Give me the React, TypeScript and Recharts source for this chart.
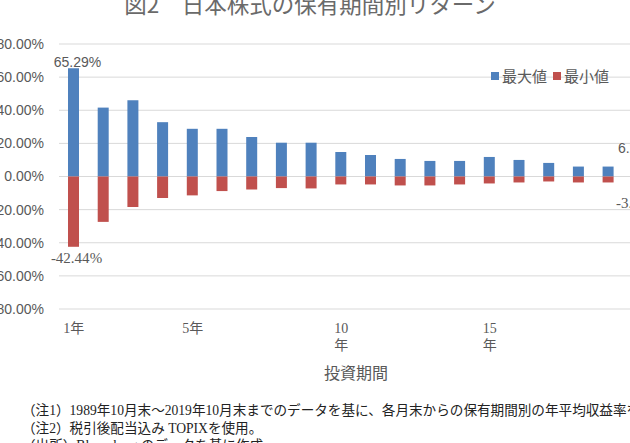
import React from "react";
import { BarChart, Bar, XAxis, YAxis, CartesianGrid, LabelList } from "recharts";

// 保有期間（年）
const years = [1, 2, 3, 4, 5, 6, 7, 8, 9, 10, 11, 12, 13, 14, 15, 16, 17, 18, 19, 20];
// 最大値 (%)
const maxValues = [65.29, 41.6, 46.0, 32.8, 28.8, 28.8, 23.8, 20.4, 20.4, 14.8, 13.0, 10.6, 9.4, 9.4, 11.8, 10.0, 8.2, 6.0, 6.0, 6.2];
// 最小値 (%)
const minValues = [-42.44, -27.4, -18.4, -13.0, -11.4, -8.8, -7.8, -7.0, -7.2, -4.8, -4.8, -5.4, -5.4, -4.8, -4.2, -3.6, -3.0, -3.6, -3.6, -3.5];
const yTicks = [-80, -60, -40, -20, 0, 20, 40, 60, 80];
const xTickLabels: Record<number, string[]> = {
  1: ["1年"],
  5: ["5年"],
  10: ["10", "年"],
  15: ["15", "年"],
  20: ["20", "年"],
};
const labeledIndexes = [0, 19];
const notes = [
  "（注1）1989年10月末～2019年10月末までのデータを基に、各月末からの保有期間別の年平均収益率を算出。",
  "（注2）税引後配当込み TOPIXを使用。",
  "（出所）Bloomberg のデータを基に作成",
];

const data = years.map((y, i) => ({ year: y, max: maxValues[i], min: minValues[i] }));

const BLUE = "#4F81BD";
const RED = "#C0504D";
const GRAY = "#595959";
const SANS = "'Liberation Sans', 'Noto Sans CJK JP', sans-serif";
const SERIF = "'Liberation Serif', 'Noto Sans CJK JP', serif";
const CJK = "'Noto Sans CJK JP', sans-serif";

const XTick = (props: any) => {
  const { x, y, payload } = props;
  const lines = xTickLabels[payload.value];
  if (!lines) return null;
  return (
    <text x={x} y={y} textAnchor="middle" fill={GRAY} fontSize={14} fontFamily={SERIF}>
      {lines.map((l, i) => (
        <tspan key={i} x={x} dy={i === 0 ? 24 : 17}>
          {l}
        </tspan>
      ))}
    </text>
  );
};

const MaxLabel = (props: any) => {
  const { x, y, width, height, index, value } = props;
  if (!labeledIndexes.includes(index)) return null;
  const top = Math.min(y, y + height);
  const lift = index === 0 ? 6 : 18;
  const shift = index === 0 ? 4 : 0;
  return (
    <text x={x + width / 2 + shift} y={top - lift} dy={5} textAnchor="middle" fill={GRAY} fontSize={14} fontFamily={SANS}>
      {value.toFixed(2)}%
    </text>
  );
};

const MinLabel = (props: any) => {
  const { x, y, width, height, index, value } = props;
  if (!labeledIndexes.includes(index)) return null;
  const bottom = Math.max(y, y + height);
  const drop = index === 0 ? 11 : 21;
  const shift = index === 0 ? 3 : 0;
  return (
    <text x={x + width / 2 + shift} y={bottom + drop} dy={5} textAnchor="middle" fill={GRAY} fontSize={15} fontFamily={SERIF}>
      {value.toFixed(2)}%
    </text>
  );
};

export default function App() {
  return (
    <div
      style={{
        position: "fixed",
        left: 0,
        top: 0,
        width: 630,
        height: 443,
        overflow: "hidden",
        background: "#fff",
      }}
    >
      <BarChart
        width={700}
        height={443}
        data={data}
        stackOffset="sign"
        margin={{ top: 44, right: 47, bottom: 64, left: 0 }}
        style={{ position: "absolute", left: 0, top: 0 }}
      >
        <CartesianGrid vertical={false} stroke="#d9d9d9" />
        <XAxis
          dataKey="year"
          interval={0}
          axisLine={false}
          tickLine={false}
          tickSize={0}
          tickMargin={0}
          height={70}
          tick={<XTick />}
          label={{
            value: "投資期間",
            position: "insideBottom",
            offset: 0,
            fill: GRAY,
            fontSize: 16,
            fontFamily: CJK,
          }}
        />
        <YAxis
          domain={[-80, 80]}
          ticks={yTicks}
          width={59}
          axisLine={false}
          tickLine={false}
          tickSize={0}
          tickMargin={15}
          tickFormatter={(v: number) => `${v.toFixed(2)}%`}
          tick={{ fill: GRAY, fontSize: 14, fontFamily: SANS }}
        />
        <Bar dataKey="max" stackId="a" fill={BLUE} barSize={11} isAnimationActive={false}>
          <LabelList dataKey="max" content={<MaxLabel />} />
        </Bar>
        <Bar dataKey="min" stackId="a" fill={RED} barSize={11} isAnimationActive={false}>
          <LabelList dataKey="min" content={<MinLabel />} />
        </Bar>
      </BarChart>

      <div
        style={{
          position: "absolute",
          left: 0,
          width: 620,
          top: -9,
          textAlign: "center",
          fontFamily: CJK,
          fontSize: 22.5,
          lineHeight: "24px",
          color: "#6a6a6a",
          whiteSpace: "nowrap",
        }}
      >
        図2　日本株式の保有期間別リターン
      </div>

      <div
        style={{
          position: "absolute",
          left: 491,
          top: 67,
          display: "flex",
          alignItems: "center",
          fontFamily: CJK,
          fontSize: 15,
          lineHeight: "18px",
          color: GRAY,
          whiteSpace: "nowrap",
        }}
      >
        <span style={{ width: 8, height: 8, background: BLUE, marginRight: 3 }} />
        <span>最大値</span>
        <span style={{ width: 8, height: 8, background: RED, marginLeft: 6, marginRight: 3 }} />
        <span>最小値</span>
      </div>

      {notes.map((n, i) => (
        <div
          key={i}
          style={{
            position: "absolute",
            left: 22,
            top: 402 + i * 17.5,
            fontFamily: SERIF,
            fontSize: 13.6,
            lineHeight: "17px",
            color: "#222",
            whiteSpace: "nowrap",
          }}
        >
          {n}
        </div>
      ))}
    </div>
  );
}
